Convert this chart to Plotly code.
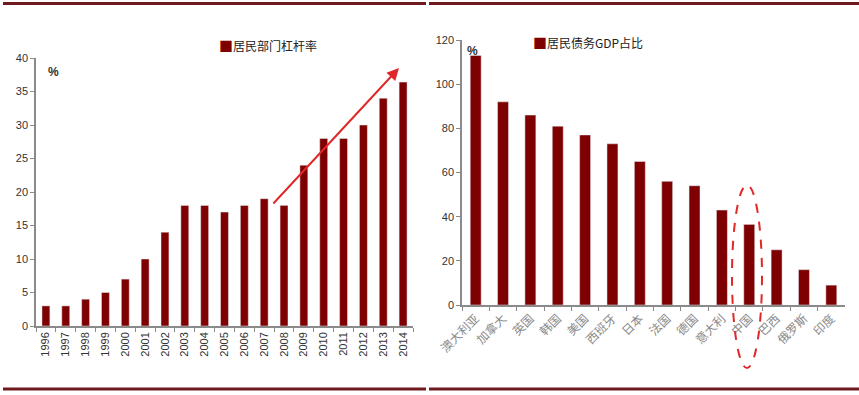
import plotly.graph_objects as go

W, H = 859, 395

years = ["1996", "1997", "1998", "1999", "2000", "2001", "2002", "2003", "2004", "2005",
         "2006", "2007", "2008", "2009", "2010", "2011", "2012", "2013", "2014"]
leverage = [3, 3, 4, 5, 7, 10, 14, 18, 18, 17, 18, 19, 18, 24, 28, 28, 30, 34, 36.4]
left_ticks = [0, 5, 10, 15, 20, 25, 30, 35, 40]

countries = ["澳大利亚", "加拿大", "英国", "韩国", "美国", "西班牙", "日本", "法国",
             "德国", "意大利", "中国", "巴西", "俄罗斯", "印度"]
debt_gdp = [113, 92, 86, 81, 77, 73, 65, 56, 54, 43, 36.5, 25, 16, 9]
right_ticks = [0, 20, 40, 60, 80, 100, 120]

BAR = "#7f0000"
AX = "#8a8a8a"


def px_x(p):
    return p / W


def px_y(p):
    return 1 - p / H


fig = go.Figure()
fig.add_trace(go.Bar(x=years, y=leverage, marker_color=BAR, xaxis="x", yaxis="y",
                     name="居民部门杠杆率", showlegend=False))
fig.add_trace(go.Bar(x=countries, y=debt_gdp, marker_color=BAR, xaxis="x2", yaxis="y2",
                     name="居民债务GDP占比", showlegend=False))

tickfont = dict(family="Liberation Sans, Arial, sans-serif", size=11, color="#333")

fig.update_layout(
    width=W, height=H,
    autosize=False,
    margin=dict(l=0, r=0, t=0, b=0, pad=0, autoexpand=False),
    paper_bgcolor="white", plot_bgcolor="white",
    bargap=0.6,
    xaxis=dict(domain=[px_x(36), px_x(413)], anchor="y", type="category", automargin=False,
               showline=True, linecolor=AX, linewidth=1.5, ticks="outside",
               tickson="boundaries", ticklen=4, tickcolor=AX, tickangle=-90,
               tickfont=dict(family="Liberation Sans, Arial, sans-serif", size=11, color="#333"),
               showgrid=False, zeroline=False),
    yaxis=dict(domain=[px_y(326), px_y(58)], anchor="x", range=[0, 40], automargin=False,
               tickvals=left_ticks, showline=True, linecolor=AX, linewidth=1.5,
               ticks="outside", ticklen=4, tickcolor=AX, tickfont=tickfont,
               showgrid=False, zeroline=False),
    xaxis2=dict(domain=[px_x(462), px_x(845)], anchor="y2", type="category", automargin=False,
                showline=True, linecolor=AX, linewidth=1.5, ticks="outside",
                tickson="boundaries", ticklen=4, tickcolor=AX, tickangle=-45,
                tickfont=dict(family="Noto Sans CJK SC, sans-serif", size=12, color="#8a8a8a"),
                showgrid=False, zeroline=False),
    yaxis2=dict(domain=[px_y(305), px_y(40)], anchor="x2", range=[0, 120], automargin=False,
                tickvals=right_ticks, showline=True, linecolor=AX, linewidth=1.5,
                ticks="outside", ticklen=4, tickcolor=AX, tickfont=tickfont,
                showgrid=False, zeroline=False),
)

cjk = "Noto Sans CJK SC, sans-serif"
annotations = [
    dict(text="<span style='color:%s;font-size:14px'>■</span>居民部门杠杆率" % BAR, x=px_x(217), y=px_y(33),
         xref="paper", yref="paper", showarrow=False, font=dict(family=cjk, size=12, color="#222")),
    dict(text="<span style='color:%s;font-size:14px'>■</span>居民债务GDP占比" % BAR, x=px_x(645), y=px_y(30),
         xref="paper", yref="paper", showarrow=False, font=dict(family=cjk, size=12, color="#222")),
    dict(text="<b>%</b>", x=px_x(46), y=px_y(63), xref="paper", yref="paper", showarrow=False,
         font=dict(family="Liberation Sans, Arial", size=12, color="#333")),
    dict(text="<b>%</b>", x=px_x(472), y=px_y(42), xref="paper", yref="paper", showarrow=False,
         font=dict(family="Liberation Sans, Arial", size=12, color="#333")),
    # trend arrow
    dict(x=px_x(399), y=px_y(68), ax=272 - 399, ay=205 - 68, xref="paper", yref="paper",
         axref="pixel", ayref="pixel", text="", showarrow=True, arrowhead=2, arrowsize=1.2,
         arrowwidth=2, arrowcolor="#e02828"),
]
fig.update_layout(annotations=annotations)

LINE = "#6e1a1f"
shapes = [
    dict(type="line", xref="paper", yref="paper", x0=px_x(3), x1=px_x(426), y0=px_y(3.5), y1=px_y(3.5),
         line=dict(color=LINE, width=3)),
    dict(type="line", xref="paper", yref="paper", x0=px_x(429), x1=1, y0=px_y(3.5), y1=px_y(3.5),
         line=dict(color=LINE, width=3)),
    dict(type="line", xref="paper", yref="paper", x0=px_x(3), x1=px_x(426), y0=px_y(389), y1=px_y(389),
         line=dict(color=LINE, width=3)),
    dict(type="line", xref="paper", yref="paper", x0=px_x(429), x1=1, y0=px_y(389), y1=px_y(389),
         line=dict(color=LINE, width=3)),
    dict(type="circle", xref="paper", yref="paper", x0=px_x(732), x1=px_x(762),
         y0=px_y(368), y1=px_y(185), line=dict(color="#e02828", width=2, dash="dash")),
]
fig.update_layout(shapes=shapes)

fig.write_html("out.html", config={"displayModeBar": False},
               post_script="document.body.style.margin='0px';document.body.style.overflow='hidden';")
